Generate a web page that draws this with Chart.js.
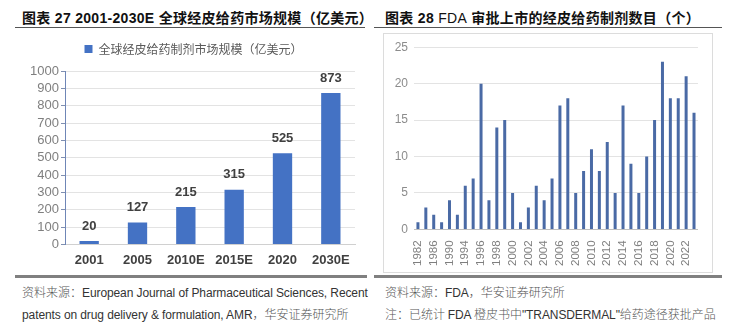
<!DOCTYPE html>
<html>
<head>
<meta charset="utf-8">
<script src="https://cdn.jsdelivr.net/npm/chart.js@4.4.1/dist/chart.umd.min.js"></script>
<style>
  body { margin: 0; background: #fff; width: 732px; height: 323px; position: relative; overflow: hidden; }
  .title { position: absolute; top: 7px; font: bold 14px "Liberation Sans", "Noto Sans CJK SC", sans-serif; color: #111; white-space: nowrap; letter-spacing: 0.3px; }
  .title .lt { font-weight: normal; }
  .rule { position: absolute; height: 1px; background: #555; }
  .foot { position: absolute; height: 3px; background: #808080; }
  .src { position: absolute; font: 12px "Liberation Sans", sans-serif; letter-spacing: -0.1px; color: #333; white-space: nowrap; }
  .src .cn { font: 300 12px "Noto Sans CJK SC", serif; letter-spacing: 0; color: #555; }
  #boxR { position: absolute; left: 383px; top: 33px; width: 328px; height: 238px; border: 1px solid #dcdcdc; }
  canvas { position: absolute; }
</style>
</head>
<body>
<div class="title" style="left:22px">图表 27 2001-2030E 全球经皮给药市场规模（亿美元）</div>
<div class="title" style="left:385px">图表 28 <span class="lt">FDA</span> 审批上市的经皮给药制剂数目（个）</div>
<div class="rule" style="left:15px; top:27px; width:350px"></div>
<div class="rule" style="left:374px; top:27px; width:348px"></div>

<div id="boxR"></div>
<canvas id="marketChart" style="left:0; top:30px" width="370" height="245"></canvas>
<canvas id="fdaChart" style="left:384px; top:34px" width="327" height="237"></canvas>

<div class="foot" style="left:15px; top:275px; width:352px"></div>
<div class="foot" style="left:374px; top:275px; width:348px"></div>
<div class="src" style="left:22px; top:283px"><span class="cn">资料来源：</span>European Journal of Pharmaceutical Sciences, Recent</div>
<div class="src" style="left:22px; top:305px">patents on drug delivery &amp; formulation, AMR<span class="cn">，华安证券研究所</span></div>
<div class="src" style="left:385px; top:283px"><span class="cn">资料来源：</span>FDA<span class="cn">，华安证券研究所</span></div>
<div class="src" style="left:385px; top:305px"><span class="cn">注：已统计 </span>FDA <span class="cn">橙皮书中</span>"TRANSDERMAL"<span class="cn">给药途径获批产品</span></div>

<script>
// 全球经皮给药市场规模（亿美元）
const marketYears = ['2001', '2005', '2010E', '2015E', '2020', '2030E'];
const marketSize = [20, 127, 215, 315, 525, 873];

// FDA 审批上市的经皮给药制剂数目
const fdaYears = ['1982', '1984', '1986', '1988', '1990', '1992', '1994', '1995',
  '1996', '1997', '1998', '1999', '2000', '2001', '2002', '2003', '2004', '2005',
  '2006', '2007', '2008', '2009', '2010', '2011', '2012', '2013', '2014', '2015',
  '2016', '2017', '2018', '2019', '2020', '2021', '2022', '2023'];
const fdaCount = [1, 3, 2, 1, 4, 2, 6, 7,
  20, 4, 14, 15, 5, 1, 3, 6, 4, 7,
  17, 18, 5, 8, 11, 8, 12, 5, 17, 9,
  5, 10, 15, 23, 18, 18, 21, 16];

// value labels above each bar
const barValues = {
  id: 'barValues',
  afterDatasetsDraw(chart) {
    const ctx = chart.ctx;
    const meta = chart.getDatasetMeta(0);
    ctx.save();
    ctx.font = 'bold 13px "Liberation Sans", Arial, sans-serif';
    ctx.fillStyle = '#404040';
    ctx.textAlign = 'center';
    ctx.textBaseline = 'middle';
    meta.data.forEach((bar, i) => {
      ctx.fillText(chart.data.datasets[0].data[i], bar.x, bar.y - 15);
    });
    ctx.restore();
  }
};

// extra room under the legend, and nudge it right
const legendSpace = {
  id: 'legendSpace',
  beforeInit(chart) {
    const fit = chart.legend.fit;
    chart.legend.fit = function () {
      fit.call(this);
      this.height += 6;
    };
  },
  afterLayout(chart) {
    chart.legend.left += 16;
    chart.legend.right += 16;
  }
};

new Chart(document.getElementById('marketChart'), {
  type: 'bar',
  data: {
    labels: marketYears,
    datasets: [{
      label: '全球经皮给药制剂市场规模（亿美元）',
      data: marketSize,
      backgroundColor: '#4472c4',
      barPercentage: 0.4,
      categoryPercentage: 1
    }]
  },
  options: {
    responsive: false,
    animation: false,
    layout: { padding: { left: 0, right: 15, top: 5, bottom: 7 } },
    plugins: {
      legend: {
        labels: {
          boxWidth: 8, boxHeight: 8, padding: 8,
          color: '#595959',
          font: { size: 12, family: '"Noto Sans CJK SC", sans-serif' }
        }
      },
      tooltip: { enabled: false }
    },
    scales: {
      x: {
        grid: { display: false },
        border: { color: '#d0d0d0' },
        ticks: { color: '#404040', font: { size: 13, weight: 'bold', family: '"Liberation Sans", Arial' }, padding: 0 }
      },
      y: {
        min: 0, max: 1000,
        afterFit(scale) { scale.width = 65; },
        ticks: {
          stepSize: 100, autoSkip: false, color: '#7f7f7f',
          font: { size: 13, family: '"Liberation Sans", Arial' }, padding: 2,
          callback(v) { return String(v); }
        },
        grid: { color: '#e3e3e3', tickLength: 4, tickColor: '#7f8fb0' },
        border: { color: '#6f86b6' }
      }
    }
  },
  plugins: [barValues, legendSpace]
});

new Chart(document.getElementById('fdaChart'), {
  type: 'bar',
  data: {
    labels: fdaYears,
    datasets: [{
      data: fdaCount,
      backgroundColor: '#4a6aa5',
      barPercentage: 0.38,
      categoryPercentage: 1
    }]
  },
  options: {
    responsive: false,
    animation: false,
    layout: { padding: { left: 0, right: 13, top: 5, bottom: 2 } },
    plugins: { legend: { display: false }, tooltip: { enabled: false } },
    scales: {
      x: {
        grid: { display: false },
        border: { color: '#bfbfbf' },
        ticks: {
          autoSkip: false, maxRotation: 90, minRotation: 90, padding: 3,
          color: '#7f7f7f', font: { size: 11.5, family: '"Liberation Sans", Arial' },
          callback(v, i) { return i % 2 === 0 ? fdaYears[i] : ''; }
        }
      },
      y: {
        min: 0, max: 25,
        afterFit(scale) { scale.width = 30; },
        ticks: { stepSize: 5, color: '#8c8c8c', font: { size: 12, family: '"Liberation Sans", Arial' }, padding: 6 },
        grid: { color: '#e3e3e3', drawTicks: false },
        border: { display: false }
      }
    }
  }
});
</script>
</body>
</html>
